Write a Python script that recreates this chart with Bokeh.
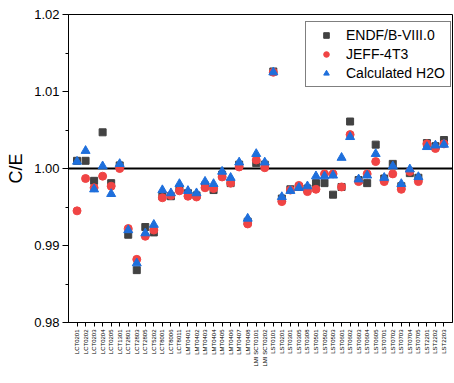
import math
from bokeh.plotting import figure
from bokeh.models import (Range1d, FixedTicker, Span, Legend, LegendItem,
                          NumeralTickFormatter, ColumnDataSource)
from bokeh.embed import file_html
from bokeh.resources import INLINE

labels = [
    "LCT0201", "LCT0202", "LCT0203", "LCT0204", "LCT0205", "LCT1301", "LCT2801",
    "LCT2803", "LCT2805", "LCT5202", "LCT8001", "LCT8006", "LCT8011",
    "LMT0401", "LMT0402", "LMT0403", "LMT0404", "LMT0405", "LMT0406", "LMT0407", "LMT0408",
    "LMI SCT0101", "LMI SCT0202",
    "LST0101", "LST0201", "LST0301", "LST0305", "LST0308", "LST0501", "LST0502", "LST0503",
    "LST0601", "LST0602", "LST0603", "LST0604", "LST0605", "LST0701", "LST0702", "LST0703",
    "LST0704", "LST0705", "LST2201", "LST2202", "LST2203",
]

endf = [
    1.0010, 1.0010, 0.9984, 1.0047, 0.9981, 1.0004, 0.9914, 0.9868, 0.9924, 0.9917,
    0.9964, 0.9964, 0.9974, 0.9968, 0.9965, 0.9978, 0.9972, 0.9992, 0.9981, 1.0005,
    0.9931, 1.0007, 1.0005, 1.0126, 0.9961, 0.9973, 0.9976, 0.9974, 0.9981, 0.9981,
    0.9966, 0.9976, 1.0061, 0.9985, 0.9981, 1.0031, 0.9987, 1.0006, 0.9977, 0.9994,
    0.9988, 1.0033, 1.0029, 1.0037,
]

jeff = [
    0.9945, 0.9987, 0.9975, 0.9990, 0.9977, 1.0000, 0.9922, 0.9882, 0.9912, 0.9920,
    0.9962, 0.9965, 0.9971, 0.9964, 0.9963, 0.9975, 0.9974, 0.9989, 0.9981, 1.0002,
    0.9928, 1.0011, 1.0001, 1.0125, 0.9957, 0.9972, 0.9978, 0.9970, 0.9973, 0.9993,
    0.9993, 0.9976, 1.0044, 0.9983, 0.9993, 1.0009, 0.9983, 0.9993, 0.9973, 0.9996,
    0.9983, 1.0032, 1.0026, 1.0032,
]

calc = [
    1.0009, 1.0023, 0.9973, 1.0003, 0.9967, 1.0006, 0.9920, 0.9877, 0.9916, 0.9927,
    0.9972, 0.9968, 0.9980, 0.9971, 0.9968, 0.9983, 0.9980, 0.9996, 0.9988, 1.0008,
    0.9935, 1.0019, 1.0008, 1.0125, 0.9963, 0.9971, 0.9975, 0.9977, 0.9990, 0.9990,
    0.9991, 1.0014, 1.0041, 0.9986, 0.9991, 1.0019, 0.9988, 1.0003, 0.9980, 0.9999,
    0.9989, 1.0028, 1.0030, 1.0031,
]

series_names = ["ENDF/B-VIII.0", "JEFF-4T3", "Calculated H2O"]
y_ticks = [0.98, 0.99, 1.00, 1.01, 1.02]
y_minor = [0.985, 0.995, 1.005, 1.015]

FONT = "Liberation Sans"
n = len(labels)
xs = list(range(n))

p = figure(width=454, height=383, output_backend="svg", toolbar_location=None,
           x_range=Range1d(-1, n), y_range=Range1d(0.98, 1.02))
p.min_border_left = 68
p.min_border_right = 2
p.min_border_top = 14
p.min_border_bottom = 61
p.background_fill_color = "white"
p.border_fill_color = "white"
p.outline_line_color = "black"
p.outline_line_width = 1
p.xgrid.visible = False
p.ygrid.visible = False

# x axis
p.xaxis.ticker = FixedTicker(ticks=xs)
p.xaxis.major_label_overrides = {i: lab for i, lab in enumerate(labels)}
p.xaxis.major_label_orientation = math.pi / 2
p.xaxis.major_label_text_font = FONT
p.xaxis.major_label_text_font_size = "6px"
p.xaxis.major_label_text_color = "black"
p.xaxis.major_tick_out = 4
p.xaxis.major_tick_in = 0
p.xaxis.minor_tick_out = 0
p.xaxis.major_label_standoff = 3
p.xaxis.axis_line_color = "black"
p.xaxis.major_tick_line_color = "black"

# y axis
p.yaxis.ticker = FixedTicker(ticks=y_ticks, minor_ticks=y_minor)
p.yaxis.formatter = NumeralTickFormatter(format="0.00")
p.yaxis.major_label_text_font = FONT
p.yaxis.major_label_text_font_size = "13px"
p.yaxis.major_label_text_color = "black"
p.yaxis.major_tick_out = 6
p.yaxis.major_tick_in = 0
p.yaxis.minor_tick_out = 3
p.yaxis.minor_tick_in = 0
p.yaxis.major_label_standoff = 3
p.yaxis.axis_label = "C/E"
p.yaxis.axis_label_text_font = FONT
p.yaxis.axis_label_text_font_size = "18px"
p.yaxis.axis_label_text_font_style = "normal"
p.yaxis.axis_label_text_color = "black"
p.yaxis.axis_label_standoff = 5
p.yaxis.axis_line_color = "black"
p.yaxis.major_tick_line_color = "black"
p.yaxis.minor_tick_line_color = "black"

ref = Span(location=1.0, dimension="width", line_color="black", line_width=2,
           level="underlay")
p.add_layout(ref)

src = ColumnDataSource(dict(x=xs, endf=endf, jeff=jeff, calc=calc))
r1 = p.scatter("x", "endf", source=src, marker="square", size=7,
               fill_color="#424242", line_color="#424242")
r2 = p.scatter("x", "jeff", source=src, marker="circle", size=8,
               fill_color="#F04444", line_color="#F04444")
r3 = p.scatter("x", "calc", source=src, marker="triangle", size=9,
               fill_color="#1E6FDC", line_color="#1E6FDC")

legend = Legend(items=[LegendItem(label=series_names[0], renderers=[r1]),
                       LegendItem(label=series_names[1], renderers=[r2]),
                       LegendItem(label=series_names[2], renderers=[r3])],
                location=(237, 235))
legend.label_text_font = FONT
legend.label_text_font_size = "14px"
legend.label_text_color = "black"
legend.label_height = 14
legend.glyph_height = 14
legend.glyph_width = 30
legend.label_standoff = 5
legend.spacing = 3
legend.padding = 5
legend.margin = 0
legend.border_line_color = "black"
legend.border_line_width = 1
legend.background_fill_color = "white"
legend.background_fill_alpha = 1.0
p.add_layout(legend, "center")

open("out.html", "w").write(file_html(p, INLINE))
